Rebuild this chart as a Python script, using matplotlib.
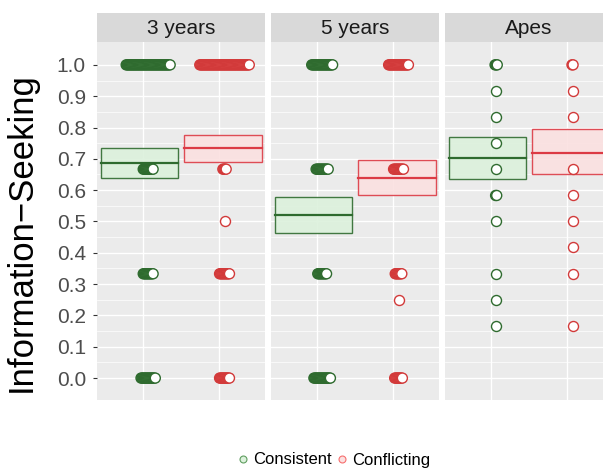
import matplotlib
matplotlib.use('Agg')
import matplotlib.pyplot as plt
import numpy as np
from matplotlib.patches import Rectangle
from matplotlib.lines import Line2D

plt.rcParams['font.family'] = ['Liberation Sans', 'DejaVu Sans']

# ── data ──
panels = ['3 years', '5 years', 'Apes']
conditions = ['Consistent', 'Conflicting']

# point values and how many subjects sit on each value
pts_3y_cons_vals = [1.0, 0.667, 0.333, 0.0]
pts_3y_cons_n = [41, 10, 10, 14]
pts_3y_conf_vals = [1.0, 0.667, 0.5, 0.333, 0.0]
pts_3y_conf_n = [46, 4, 1, 10, 10]

pts_5y_cons_vals = [1.0, 0.667, 0.333, 0.0]
pts_5y_cons_n = [20, 12, 9, 16]
pts_5y_conf_vals = [1.0, 0.667, 0.333, 0.25, 0.0]
pts_5y_conf_n = [19, 10, 7, 1, 8]

pts_apes_cons_vals = [1.0, 0.917, 0.833, 0.75, 0.667, 0.583, 0.5, 0.333, 0.25, 0.167]
pts_apes_cons_n = [3, 1, 1, 1, 1, 2, 1, 1, 1, 1]
pts_apes_conf_vals = [1.0, 0.917, 0.833, 0.667, 0.583, 0.5, 0.417, 0.333, 0.167]
pts_apes_conf_n = [2, 1, 1, 1, 1, 1, 1, 1, 1]

# crossbars: lower, mean, upper
bar_3y_cons = (0.639, 0.687, 0.735)
bar_3y_conf = (0.690, 0.735, 0.777)
bar_5y_cons = (0.463, 0.522, 0.578)
bar_5y_conf = (0.585, 0.639, 0.696)
bar_apes_cons = (0.635, 0.704, 0.770)
bar_apes_conf = (0.652, 0.719, 0.796)

points = {
    '3 years': [(pts_3y_cons_vals, pts_3y_cons_n), (pts_3y_conf_vals, pts_3y_conf_n)],
    '5 years': [(pts_5y_cons_vals, pts_5y_cons_n), (pts_5y_conf_vals, pts_5y_conf_n)],
    'Apes': [(pts_apes_cons_vals, pts_apes_cons_n), (pts_apes_conf_vals, pts_apes_conf_n)],
}
bars = {
    '3 years': [bar_3y_cons, bar_3y_conf],
    '5 years': [bar_5y_cons, bar_5y_conf],
    'Apes': [bar_apes_cons, bar_apes_conf],
}

# ── styles ──
edge_cols = ['#2f6b2f', '#d23a3a']
face_cols = ['#5f9e5f', '#f76f6f']
line_cols = ['#2f6b2f', '#dc3b45']
box_fills = ['#dcf1dc', '#fbe0e0']
box_spans = [(0.45, 1.46), (1.54, 2.56)]
PANEL_BG = '#EBEBEB'
STRIP_BG = '#D9D9D9'

W, H = 603, 471
fig = plt.figure(figsize=(W / 100, H / 100), dpi=100)

panel_left = [97, 271, 445]
panel_w = 168
panel_top, panel_bot = 42, 400
strip_top = 13

step = 0.0144  # horizontal spacing between stacked points

for i, name in enumerate(panels):
    x0 = panel_left[i]
    ax = fig.add_axes([x0 / W, 1 - panel_bot / H, panel_w / W, (panel_bot - panel_top) / H])
    ax.set_facecolor(PANEL_BG)
    ax.set_xlim(0.4, 2.6)
    ax.set_ylim(-0.07, 1.073)
    for s in ax.spines.values():
        s.set_visible(False)

    # grid
    for y in np.arange(0.05, 1.0, 0.1):
        ax.axhline(y, color='white', lw=0.5, zorder=0)
    for y in np.arange(0.0, 1.01, 0.1):
        ax.axhline(y, color='white', lw=1.0, zorder=0)
    for x in [1, 2]:
        ax.axvline(x, color='white', lw=1.0, zorder=0)

    # crossbars
    for c in range(2):
        lo, mid, hi = bars[name][c]
        xa, xb = box_spans[c]
        ax.add_patch(Rectangle((xa, lo), xb - xa, hi - lo, facecolor=box_fills[c],
                               edgecolor=line_cols[c], lw=1.0, alpha=0.9, zorder=1))
        ax.plot([xa, xb], [mid, mid], color=line_cols[c], lw=1.6, zorder=2)

    # points
    for c in range(2):
        vals, counts = points[name][c]
        cx = c + 1 + 0.07
        for v, n in zip(vals, counts):
            xs = cx + (np.arange(n) - (n - 1) / 2) * step
            fcs = [face_cols[c]] * (n - 1) + ['white']
            ax.scatter(xs, [v] * n, s=52, facecolors=fcs, edgecolors=edge_cols[c],
                       linewidths=1.0, zorder=3)

    ax.set_xticks([])
    if i == 0:
        ax.set_yticks(np.arange(0, 1.01, 0.1))
        ax.set_yticklabels([f'{t:.1f}' for t in np.arange(0, 1.01, 0.1)],
                           fontsize=15, color='#4D4D4D')
        ax.tick_params(axis='y', length=3, color='#333333', pad=5)
        ax.set_ylabel('Information\u2212Seeking', fontsize=25)
        ax.yaxis.set_label_coords(-0.35, 0.47)
    else:
        ax.set_yticks([])

    # strip
    sax = fig.add_axes([x0 / W, 1 - panel_top / H, panel_w / W, (panel_top - strip_top) / H])
    sax.set_facecolor(STRIP_BG)
    sax.set_xticks([])
    sax.set_yticks([])
    for s in sax.spines.values():
        s.set_visible(False)
    sax.text(0.5, 0.45, name, ha='center', va='center', fontsize=15, color='#1A1A1A',
             transform=sax.transAxes)

# legend
handles = [Line2D([0], [0], marker='o', ls='', markersize=5, markerfacecolor=box_fills[c],
                  markeredgecolor=face_cols[c], markeredgewidth=0.8) for c in range(2)]
fig.legend(handles, conditions, loc='center', bbox_to_anchor=(334 / W, 1 - 460 / H),
           ncol=2, frameon=False, fontsize=12, handlelength=0.6, handletextpad=0.3,
           columnspacing=0.3)

fig.savefig('out.png', dpi=100)
